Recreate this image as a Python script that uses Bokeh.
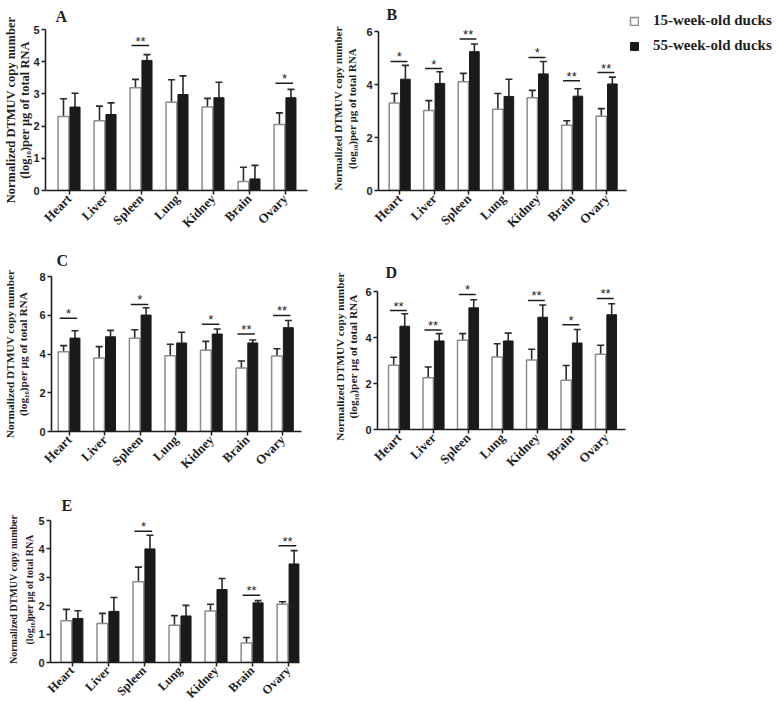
import math
import numpy as np
from bokeh.plotting import figure
from bokeh.layouts import column, row
from bokeh.models import (Range1d, FixedTicker, Whisker, TeeHead, ColumnDataSource,
                          Legend, LegendItem, Title)
from bokeh.core.properties import value
from bokeh.embed import file_html
from bokeh.resources import INLINE

# ---------------- data ----------------
organs = ["Heart", "Liver", "Spleen", "Lung", "Kidney", "Brain", "Ovary"]
series_names = ["15-week-old ducks", "55-week-old ducks"]
ylabel_line1 = "Normalized DTMUV copy number"
ylabel_line2 = "(log\u2081\u2080)per \u03bcg of total RNA"

a_young = [2.30, 2.17, 3.19, 2.74, 2.59, 0.28, 2.05]
a_young_err = [0.55, 0.45, 0.26, 0.70, 0.27, 0.44, 0.36]
a_old = [2.59, 2.36, 4.04, 2.98, 2.88, 0.36, 2.88]
a_old_err = [0.43, 0.36, 0.18, 0.58, 0.48, 0.42, 0.26]
a_sig_idx = [2, 6]
a_sig_txt = ["**", "*"]
a_sig_y = [4.50, 3.33]

b_young = [3.30, 3.02, 4.10, 3.07, 3.50, 2.46, 2.80]
b_young_err = [0.36, 0.37, 0.32, 0.59, 0.28, 0.17, 0.29]
b_old = [4.20, 4.04, 5.24, 3.55, 4.40, 3.56, 4.02]
b_old_err = [0.52, 0.44, 0.29, 0.65, 0.47, 0.28, 0.26]
b_sig_idx = [0, 1, 2, 4, 5, 6]
b_sig_txt = ["*", "*", "**", "*", "**", "**"]
b_sig_y = [4.87, 4.60, 5.72, 5.02, 4.14, 4.45]

c_young = [4.12, 3.79, 4.81, 3.91, 4.19, 3.28, 3.90]
c_young_err = [0.31, 0.59, 0.44, 0.59, 0.46, 0.36, 0.37]
c_old = [4.82, 4.89, 6.01, 4.57, 5.03, 4.57, 5.36]
c_old_err = [0.38, 0.33, 0.38, 0.55, 0.26, 0.15, 0.37]
c_sig_idx = [0, 2, 4, 5, 6]
c_sig_txt = ["*", "*", "*", "**", "**"]
c_sig_y = [5.85, 6.56, 5.53, 5.03, 5.99]

d_young = [2.79, 2.25, 3.88, 3.15, 3.02, 2.14, 3.27]
d_young_err = [0.35, 0.47, 0.29, 0.58, 0.47, 0.64, 0.39]
d_old = [4.49, 3.85, 5.29, 3.85, 4.88, 3.76, 4.99]
d_old_err = [0.54, 0.32, 0.35, 0.34, 0.53, 0.59, 0.48]
d_sig_idx = [0, 1, 2, 4, 5, 6]
d_sig_txt = ["**", "**", "*", "**", "*", "**"]
d_sig_y = [5.17, 4.33, 5.87, 5.61, 4.55, 5.70]

e_young = [1.47, 1.37, 2.84, 1.31, 1.81, 0.69, 2.05]
e_young_err = [0.40, 0.36, 0.52, 0.34, 0.24, 0.19, 0.09]
e_old = [1.55, 1.80, 4.00, 1.64, 2.57, 2.10, 3.47]
e_old_err = [0.27, 0.49, 0.48, 0.37, 0.39, 0.08, 0.47]
e_sig_idx = [2, 5, 6]
e_sig_txt = ["*", "**", "**"]
e_sig_y = [4.62, 2.37, 4.11]

# ---------------- style ----------------
SERIF = "Liberation Serif"
SANS = "Liberation Sans"
INK = "#1e1e1e"
WHITE_EDGE = "#8c8c8c"
BLACK_FILL = "#1a1a1a"
ERR_COLOR = "#2a2a2a"


def make_panel(letter, young, young_err, old, old_err, sig_idx, sig_txt, sig_y, cfg):
    ymax = cfg["ymax"]
    # a little head-room above the top tick so that the stars are not clipped;
    # the axis line itself stops at the top tick (bounds)
    add_px = int(round(cfg["fh"] * cfg["ext"] / ymax))
    fh = cfg["fh"] + add_px
    y_end = ymax * fh / cfg["fh"]
    p = figure(frame_width=cfg["fw"], frame_height=fh,
               min_border_left=cfg["bl"], min_border_right=cfg["br"],
               min_border_top=cfg["bt"] - add_px, min_border_bottom=cfg["bb"],
               x_range=Range1d(*cfg["xr"]), y_range=Range1d(0, y_end),
               output_backend="svg", toolbar_location=None)
    p.outline_line_color = None
    p.grid.visible = False
    p.background_fill_color = "white"
    p.border_fill_color = "white"

    x = np.arange(len(organs))
    xy = x - 0.16
    xo = x + 0.16
    young = np.array(young)
    old = np.array(old)

    ry = p.vbar(x=xy, top=young, bottom=0, width=0.30, fill_color="white",
                line_color=WHITE_EDGE, line_width=1.5)
    ro = p.vbar(x=xo, top=old, bottom=0, width=0.28, fill_color=BLACK_FILL,
                line_color=BLACK_FILL, line_width=1.0)

    for xs, tops, errs in ((xy, young, young_err), (xo, old, old_err)):
        src = ColumnDataSource(dict(base=xs, lower=tops, upper=tops + np.array(errs)))
        w = Whisker(source=src, base="base", lower="lower", upper="upper",
                    dimension="height", lower_head=None,
                    upper_head=TeeHead(size=7, line_width=1.6, line_color=ERR_COLOR),
                    line_width=1.6, line_color=ERR_COLOR)
        p.add_layout(w)

    si = np.array(sig_idx, dtype=float)
    p.segment(x0=si - 0.27, x1=si + 0.22, y0=sig_y, y1=sig_y,
              line_width=1.5, line_color=INK)
    p.text(x=si - 0.02, y=sig_y, text=sig_txt, text_font=value(SANS),
           text_font_size="13px", text_align="center", text_baseline="bottom",
           y_offset=3, text_color=INK)

    xa = p.xaxis[0]
    xa.ticker = FixedTicker(ticks=list(range(len(organs))))
    xa.major_label_overrides = {i: n for i, n in enumerate(organs)}
    xa.major_label_orientation = math.pi / 4
    xa.major_label_text_font = SERIF
    xa.major_label_text_font_style = "bold"
    xa.major_label_text_font_size = cfg["xfs"]
    xa.major_label_text_color = INK
    xa.major_label_standoff = 2

    ya = p.yaxis[0]
    ya.bounds = (0, ymax)
    ya.ticker = FixedTicker(ticks=list(range(0, ymax + 1, cfg["ystep"])))
    ya.major_label_text_font = SANS
    ya.major_label_text_font_style = "bold"
    ya.major_label_text_font_size = "11px"
    ya.major_label_text_color = INK
    ya.major_label_standoff = 2
    ya.axis_label = ylabel_line1 + "\n" + ylabel_line2
    ya.axis_label_text_font = SERIF
    ya.axis_label_text_font_style = "bold"
    ya.axis_label_text_font_size = cfg["yfs"]
    ya.axis_label_text_line_height = cfg["ylh"]
    ya.axis_label_text_color = INK
    ya.axis_label_standoff = cfg["ysd"]

    for ax in (xa, ya):
        ax.axis_line_width = 1.6
        ax.axis_line_color = INK
        ax.major_tick_line_width = 1.5
        ax.major_tick_line_color = INK
        ax.major_tick_out = 4
        ax.major_tick_in = 0
        ax.minor_tick_line_color = None

    p.add_layout(Title(text=letter, align="left", offset=cfg["lx"], standoff=cfg["lsd"],
                       text_font=SERIF, text_font_style="bold", text_font_size="16px",
                       text_color=INK), "above")
    return p, ry, ro


cfgA = dict(fw=262, fh=161, bl=41, br=9, bt=27, bb=52, xr=(-0.66, 6.62), ymax=5, ystep=1,
            ext=0.0, yfs="12.5px", ylh=1.05, ysd=-2, xfs="13px", lx=10, lsd=10)
cfgB = dict(fw=248, fh=159, bl=62, br=155, bt=30, bb=51, xr=(-0.62, 6.57), ymax=6, ystep=2,
            ext=0.2, yfs="11px", ylh=1.18, ysd=5, xfs="13px", lx=8, lsd=7)
cfgC = dict(fw=250, fh=155, bl=48, br=10, bt=34, bb=51, xr=(-0.50, 6.53), ymax=8, ystep=2,
            ext=0.0, yfs="11.3px", ylh=1.15, ysd=7, xfs="13px", lx=5, lsd=15)
cfgD = dict(fw=248, fh=138, bl=66, br=10, bt=49, bb=53, xr=(-0.63, 6.56), ymax=6, ystep=2,
            ext=0.35, yfs="11.3px", ylh=1.15, ysd=3, xfs="13px", lx=8, lsd=6)
cfgE = dict(fw=249, fh=142, bl=50, br=10, bt=38, bb=40, xr=(-0.60, 6.31), ymax=5, ystep=1,
            ext=0.15, yfs="10px", ylh=1.5, ysd=0, xfs="12.5px", lx=11, lsd=6)

pA, _, _ = make_panel("A", a_young, a_young_err, a_old, a_old_err, a_sig_idx, a_sig_txt, a_sig_y, cfgA)
pB, rBy, rBo = make_panel("B", b_young, b_young_err, b_old, b_old_err, b_sig_idx, b_sig_txt, b_sig_y, cfgB)
pC, _, _ = make_panel("C", c_young, c_young_err, c_old, c_old_err, c_sig_idx, c_sig_txt, c_sig_y, cfgC)
pD, _, _ = make_panel("D", d_young, d_young_err, d_old, d_old_err, d_sig_idx, d_sig_txt, d_sig_y, cfgD)
pE, _, _ = make_panel("E", e_young, e_young_err, e_old, e_old_err, e_sig_idx, e_sig_txt, e_sig_y, cfgE)

leg = Legend(items=[LegendItem(label=series_names[0], renderers=[rBy]),
                    LegendItem(label=series_names[1], renderers=[rBo])],
             location=(3, 136), margin=0, padding=0, spacing=8,
             glyph_width=10, glyph_height=10, label_standoff=14,
             label_text_font=SERIF, label_text_font_style="bold",
             label_text_font_size="15px", label_text_color=INK,
             border_line_color=None, background_fill_alpha=0)
pB.add_layout(leg, "right")

layout = column(row(column(pA), column(pB)),
                row(column(pC), column(pD)),
                row(column(pE)))

open("out.html", "w").write(file_html(layout, INLINE))
